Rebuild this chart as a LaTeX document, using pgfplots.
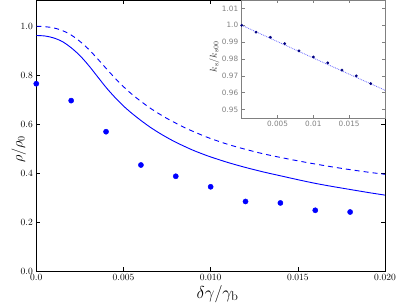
\documentclass[border=0pt]{standalone}
\usepackage{pgfplots}
\pgfplotsset{compat=1.18}
\usepackage{fontspec}
\newfontfamily\dejavu{DejaVu Sans}
\begin{document}
\begin{tikzpicture}
\path[use as bounding box] (-36.3pt,-35pt) rectangle (362.7pt,271pt);
\begin{axis}[
  at={(0pt,0pt)}, anchor=south west,
  scale only axis, width=348.7pt, height=271pt,
  xmin=0, xmax=0.02, ymin=0, ymax=1.107,
  scaled x ticks=false,
  xtick={0,0.005,0.01,0.015,0.02},
  xticklabels={0.0,0.005,0.010,0.015,0.020},
  ytick={0,0.2,0.4,0.6,0.8,1.0},
  yticklabels={0.0,0.2,0.4,0.6,0.8,1.0},
  tick style={black, line width=0.5pt}, major tick length=4pt,
  axis line style={line width=0.8pt},
  ticklabel style={font=\fontsize{9.5}{11}\selectfont},
  xlabel={$\delta\gamma/\gamma_{\rm b}$},
  xlabel style={font=\fontsize{18}{20}\selectfont, at={(axis description cs:0.52,0)}, anchor=base, yshift=-27pt},
  ylabel={$\rho/\rho_0$},
  ylabel style={font=\fontsize{14}{16}\selectfont, at={(axis description cs:-0.05,0.45)}, anchor=center},
]
\addplot[blue, line width=0.9pt, smooth, tension=0.5] table {
0 0.962
0.0005 0.960
0.001 0.952
0.0015 0.937
0.002 0.912
0.0025 0.880
0.003 0.840
0.0035 0.795
0.004 0.750
0.0045 0.710
0.005 0.674
0.0055 0.643
0.006 0.615
0.0065 0.589
0.007 0.566
0.0075 0.545
0.008 0.526
0.0085 0.509
0.009 0.493
0.0095 0.479
0.010 0.466
0.011 0.443
0.012 0.423
0.013 0.405
0.014 0.389
0.015 0.373
0.016 0.358
0.017 0.345
0.018 0.333
0.019 0.321
0.020 0.310
};
\addplot[blue, line width=0.9pt, dash pattern=on 5pt off 4pt, smooth, tension=0.5] table {
0 1.0
0.0005 0.998
0.001 0.993
0.0015 0.982
0.002 0.964
0.0025 0.938
0.003 0.906
0.0035 0.868
0.004 0.828
0.0045 0.789
0.005 0.753
0.0055 0.721
0.006 0.693
0.0065 0.667
0.007 0.644
0.0075 0.623
0.008 0.604
0.0085 0.586
0.009 0.570
0.0095 0.555
0.010 0.541
0.011 0.517
0.012 0.497
0.013 0.479
0.014 0.464
0.015 0.450
0.016 0.437
0.017 0.425
0.018 0.414
0.019 0.404
0.020 0.395
};
\addplot[only marks, mark=*, mark size=2.6pt, color=blue] table {
0 0.765
0.002 0.696
0.004 0.569
0.006 0.433
0.008 0.387
0.010 0.344
0.012 0.284
0.014 0.278
0.016 0.248
0.018 0.241
};
\end{axis}
\begin{axis}[
  at={(205.4pt,153pt)}, anchor=south west,
  scale only axis, width=143.3pt, height=118pt,
  xmin=0, xmax=0.02, ymin=0.945, ymax=1.015,
  axis background/.style={fill=white},
  scaled x ticks=false, scaled y ticks=false,
  xtick={0.005,0.01,0.015},
  xticklabels={0.005,0.01,0.015},
  ytick={0.95,0.96,0.97,0.98,0.99,1.0,1.01},
  yticklabels={0.95,0.96,0.97,0.98,0.99,1.0,1.01},
  axis line style={gray, line width=0.9pt},
  tick style={gray, line width=0.5pt}, major tick length=3pt,
  ticklabel style={font=\dejavu\fontsize{7.3}{8}\selectfont, text=gray},
  ylabel={$k_{\rm s}/k_{\rm s00}$},
  ylabel style={font=\fontsize{10}{11}\selectfont, text=black!80, at={(axis description cs:-0.19,0.52)}, anchor=center},
]
\addplot[blue!60, line width=0.8pt, densely dotted] table {
0 1.0
0.005 0.9903
0.01 0.9806
0.015 0.9710
0.02 0.9615
};
\addplot[only marks, mark=*, mark size=1.2pt, color=blue!50!black] table {
0 1.0
0.002 0.9959
0.004 0.9929
0.006 0.9891
0.008 0.9848
0.010 0.9812
0.012 0.9777
0.014 0.9734
0.016 0.9700
0.018 0.9654
};
\end{axis}
\end{tikzpicture}
\end{document}
